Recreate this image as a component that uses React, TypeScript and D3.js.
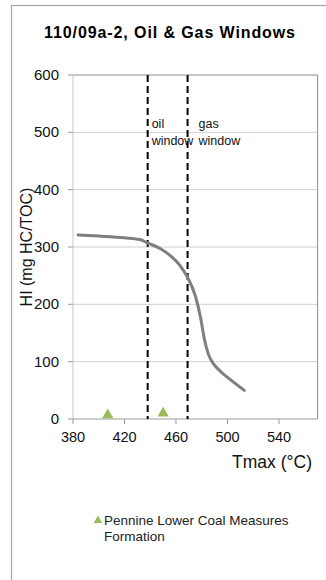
import React from "react";
import * as d3 from "d3";

// Pyrolysis data: Tmax (°C) vs Hydrogen Index (mg HC/TOC)
const sampleTmax = [407, 450];
const sampleHI = [7, 10];

// Maturation trend curve
const trendTmax = [384, 400, 420, 432, 438, 448, 455, 463, 469, 475, 479, 482, 485, 488, 491, 495, 502, 513];
const trendHI = [321, 319, 316, 313, 307, 297, 286, 268, 247, 215, 178, 140, 114, 100, 91, 82, 69, 50];

// Window boundaries
const oilWindowStart = 438;
const gasWindowStart = 469;

const xTicks = [380, 420, 460, 500, 540];
const yTicks = [0, 100, 200, 300, 400, 500, 600];

const title = "110/09a-2, Oil & Gas Windows";
const seriesName = ["Pennine Lower Coal Measures", "Formation"];

const FONT = "'Liberation Sans', Arial, sans-serif";

export default function App() {
  const W = 326;
  const H = 580;
  const x = d3.scaleLinear().domain([380, 570]).range([73, 317.6]);
  const y = d3.scaleLinear().domain([0, 600]).range([419, 75]);

  const line = d3
    .line<number>()
    .x((_, i) => x(trendTmax[i]))
    .y((d) => y(d))
    .curve(d3.curveMonotoneX);

  const tri = d3.symbol().type(d3.symbolTriangle).size(55)();
  const triSmall = d3.symbol().type(d3.symbolTriangle).size(32)();

  const [x0, x1] = x.range();
  const [y0, y1] = y.range();

  return (
    <div style={{ position: "fixed", left: 0, top: 0 }}>
      <svg width={W} height={H} style={{ display: "block", background: "#fff" }} fontFamily={FONT}>
        <rect x={11.5} y={5.5} width={330} height={590} fill="#fff" stroke="#a6a6a6" strokeWidth={1.2} />

        <text x={170} y={38} textAnchor="middle" fontSize={16} fontWeight="bold" fill="#000" letterSpacing={0.9}>
          {title}
        </text>

        {/* horizontal gridlines */}
        {yTicks.slice(1, -1).map((t) => (
          <line key={t} x1={x0} x2={x1} y1={y(t)} y2={y(t)} stroke="#d0d0d0" strokeWidth={1} />
        ))}

        {/* plot frame */}
        <line x1={x0} x2={x1} y1={y1} y2={y1} stroke="#8c8c8c" strokeWidth={1} />
        <line x1={x1} x2={x1} y1={y1} y2={y0} stroke="#8c8c8c" strokeWidth={1} />
        <line x1={x0} x2={x0} y1={y1} y2={y0} stroke="#c8c8c8" strokeWidth={1} />
        <line x1={x0} x2={x1} y1={y0} y2={y0} stroke="#9a9a9a" strokeWidth={1} />

        {/* y ticks */}
        {yTicks.map((t) => (
          <g key={t}>
            <line x1={x0 - 5} x2={x0} y1={y(t)} y2={y(t)} stroke="#9a9a9a" />
            <text x={59} y={y(t) + 5} textAnchor="end" fontSize={15} fill="#111">
              {t}
            </text>
          </g>
        ))}

        {/* x ticks */}
        {xTicks.map((t) => (
          <g key={t}>
            <line x1={x(t)} x2={x(t)} y1={y0} y2={y0 + 5} stroke="#9a9a9a" />
            <text x={x(t)} y={442} textAnchor="middle" fontSize={14.5} fill="#111">
              {t}
            </text>
          </g>
        ))}

        <text x={312} y={468} textAnchor="end" fontSize={17.5} fill="#111">
          Tmax (°C)
        </text>
        <text
          transform={`translate(${32},${(y0 + y1) / 2}) rotate(-90)`}
          textAnchor="middle"
          fontSize={16}
          fill="#111"
        >
          HI (mg HC/TOC)
        </text>

        {/* window boundaries */}
        {[oilWindowStart, gasWindowStart].map((t) => (
          <line
            key={t}
            x1={x(t)}
            x2={x(t)}
            y1={y1}
            y2={y0}
            stroke="#000"
            strokeWidth={2}
            strokeDasharray="7,4"
          />
        ))}
        <text fontSize={12.5} fill="#111">
          <tspan x={x(oilWindowStart) + 4} y={128}>oil</tspan>
          <tspan x={x(oilWindowStart) + 4} y={145}>window</tspan>
        </text>
        <text fontSize={12.5} fill="#111">
          <tspan x={x(gasWindowStart) + 11} y={128}>gas</tspan>
          <tspan x={x(gasWindowStart) + 11} y={145}>window</tspan>
        </text>

        {/* maturation trend */}
        <path d={line(trendHI) ?? ""} fill="none" stroke="#7f7f7f" strokeWidth={3} strokeLinecap="round" />

        {/* samples */}
        {sampleTmax.map((t, i) => (
          <path key={i} d={tri ?? ""} transform={`translate(${x(t)},${y(sampleHI[i])})`} fill="#9bbb59" />
        ))}

        {/* legend */}
        <path d={triSmall ?? ""} transform="translate(98,520.5)" fill="#9bbb59" />
        <text fontSize={13.5} fill="#222">
          <tspan x={104} y={525}>{seriesName[0]}</tspan>
          <tspan x={104} y={541}>{seriesName[1]}</tspan>
        </text>
      </svg>
    </div>
  );
}
